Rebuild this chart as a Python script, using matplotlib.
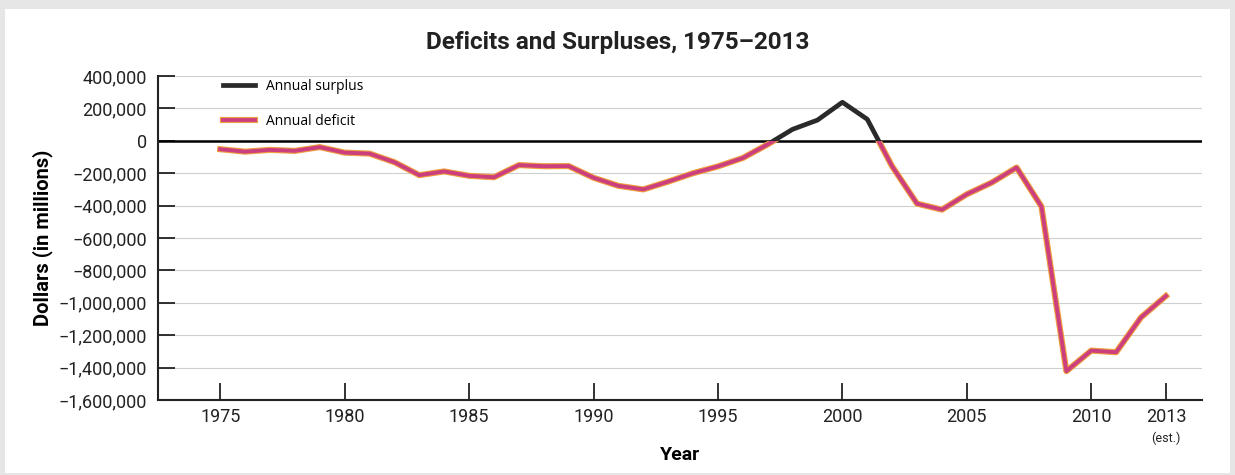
import numpy as np
import matplotlib.pyplot as plt
from matplotlib.patches import Rectangle
from matplotlib.ticker import FuncFormatter

# Federal budget balance (millions of dollars)
years = list(range(1975, 2014))
balance = [-52000, -67000, -56000, -62000, -39000, -73000, -79000, -132000,
           -212000, -189000, -216000, -225000, -150000, -157000, -156000,
           -228000, -278000, -300000, -252000, -200000, -158000, -106000,
           -22000, 71000, 128000, 238000, 133000, -158000, -388000, -425000,
           -330000, -258000, -165000, -406000, -1422000, -1295000, -1305000,
           -1090000, -958000]
year_ticks = [1975, 1980, 1985, 1990, 1995, 2000, 2005, 2010, 2013]
y_ticks = list(range(-1600000, 400001, 200000))

plt.rcParams['font.family'] = ['Roboto', 'DejaVu Sans']

fig = plt.figure(figsize=(12.35, 4.75), dpi=100)
fig.patch.set_facecolor('#e6e6e6')
fig.patches.append(Rectangle((5 / 1235, 2 / 475), 1225 / 1235, 464 / 475,
                             transform=fig.transFigure, facecolor='white',
                             edgecolor='none', zorder=-10))

ax = fig.add_axes([158 / 1235, 75 / 475, 1044 / 1235, 324 / 475])
ax.set_facecolor('white')

# grid lines and zero line
for v in y_ticks:
    if v != 0:
        ax.axhline(v, color='#cfcfcf', lw=0.8, zorder=1)
ax.axhline(0, color='black', lw=1.8, zorder=2)

# surplus line (black) everywhere, deficit line clipped below zero
surplus, = ax.plot(years, balance, color='#2a2a2a', lw=3.4, zorder=3)
clip = Rectangle((1900, -1e8), 300, 1e8, transform=ax.transData)
under, = ax.plot(years, balance, color='#f0a040', lw=4.4, zorder=4)
over, = ax.plot(years, balance, color='#cc3f7f', lw=2.8, zorder=5)
under.set_clip_path(clip)
over.set_clip_path(clip)

ax.set_xlim(1972.5, 2014.45)
ax.set_ylim(-1600000, 400000)
ax.set_yticks(y_ticks)
ax.yaxis.set_major_formatter(FuncFormatter(
    lambda v, p: '0' if v == 0 else ('\u2212' if v < 0 else '') + f'{abs(int(v)):,}'))
ax.set_xticks(year_ticks)
ax.set_xticklabels([str(y) for y in year_ticks])
ax.tick_params(axis='both', direction='in', length=12, width=1.3,
               labelsize=13, colors='#222222', pad=6)
ax.tick_params(axis='y', pad=8)
ax.annotate('(est.)', xy=(2013, 0), xycoords=('data', 'axes fraction'),
            xytext=(0, -23), textcoords='offset points', ha='center',
            va='top', fontsize=9, color='#222222')

for s in ['top', 'right']:
    ax.spines[s].set_visible(False)
for s in ['left', 'bottom']:
    ax.spines[s].set_linewidth(1.5)
    ax.spines[s].set_color('#222222')

ax.set_xlabel('Year', fontsize=14, fontweight='bold', labelpad=14)
ax.set_ylabel('Dollars (in millions)', fontsize=14.5, fontweight='bold', labelpad=4)
fig.text(0.5, 1 - 42 / 475, 'Deficits and Surpluses, 1975\u20132013',
         ha='center', va='center', fontsize=17.5, fontweight='bold', color='#222222')

leg = ax.legend([surplus, (under, over)], ['Annual surplus', 'Annual deficit'],
                loc='upper left', bbox_to_anchor=(0.05, 1.03), frameon=False,
                handlelength=2.3, labelspacing=1.45,
                prop={'family': ['Open Sans', 'DejaVu Sans'], 'size': 10})

fig.savefig('out.png', dpi=100, facecolor=fig.get_facecolor())
